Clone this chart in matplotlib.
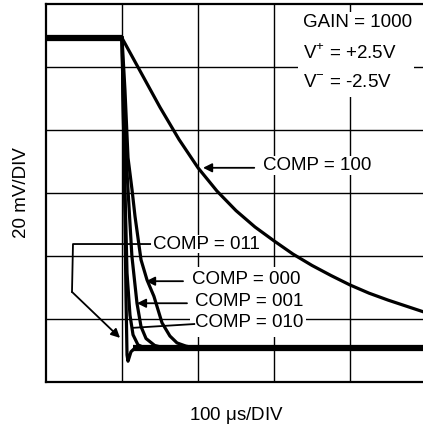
import matplotlib.pyplot as plt
from matplotlib.patches import Rectangle

plt.rcParams['font.family'] = ['Liberation Sans', 'DejaVu Sans']
plt.rcParams['mathtext.fontset'] = 'custom'
plt.rcParams['mathtext.rm'] = 'Liberation Sans'

# time in divisions (100 us/DIV), level in divisions (20 mV/DIV)
flat_t = [0.0, 1.0]
flat_v = [5.46, 5.46]

comp100_t = [1.0, 1.25, 1.5, 1.75, 2.0, 2.25, 2.5, 2.75, 3.0, 3.25, 3.5,
             3.75, 4.0, 4.25, 4.5, 4.75, 5.0]
comp100_v = [5.46, 4.91, 4.36, 3.85, 3.40, 3.03, 2.72, 2.46, 2.24, 2.03, 1.85,
             1.69, 1.54, 1.41, 1.30, 1.20, 1.10]

comp011_t = [1.0, 1.026, 1.053, 1.066, 1.079, 1.118, 1.171, 5.0]
comp011_v = [5.46, 3.68, 1.30, 0.43, 0.33, 0.48, 0.54, 0.54]

comp010_t = [1.0, 1.026, 1.066, 1.105, 1.145, 1.21, 1.30, 5.0]
comp010_v = [5.46, 3.68, 1.73, 1.06, 0.75, 0.59, 0.54, 0.54]

comp001_t = [1.0, 1.026, 1.079, 1.13, 1.197, 1.25, 1.316, 1.43, 1.56, 5.0]
comp001_v = [5.46, 4.2, 3.05, 2.0, 1.25, 0.88, 0.69, 0.58, 0.54, 0.54]

comp000_t = [1.0, 1.039, 1.079, 1.132, 1.171, 1.25, 1.329, 1.42, 1.526,
             1.63, 1.724, 1.84, 1.96, 5.0]
comp000_v = [5.46, 4.63, 3.56, 3.05, 2.63, 1.94, 1.62, 1.36, 0.94,
             0.73, 0.62, 0.57, 0.54, 0.54]

settle_t = [1.15, 5.0]
settle_v = [0.54, 0.54]

grid_x = [1, 2, 3, 4]
grid_y = [1, 2, 3, 4, 5]

fig = plt.figure(figsize=(4.23, 4.32), dpi=100)
ax = fig.add_axes([46/423, 1-382/432, 1-46/423, 378/432])
ax.set_xlim(0, 4.96)
ax.set_ylim(0, 6)
ax.set_xticks([])
ax.set_yticks([])
for gx in grid_x:
    ax.axvline(gx, color='black', lw=1.0, zorder=1)
for gy in grid_y:
    ax.axhline(gy, color='black', lw=1.0, zorder=1)
for s in ['left', 'top', 'bottom']:
    ax.spines[s].set_linewidth(1.6)
ax.spines['right'].set_visible(False)

# noisy flat parts
ax.plot(flat_t, flat_v, color='black', lw=4.5, solid_capstyle='butt', zorder=4)
ax.plot(settle_t, settle_v, color='black', lw=4.5, solid_capstyle='butt', zorder=4)

for t, v in [(comp100_t, comp100_v), (comp011_t, comp011_v), (comp010_t, comp010_v),
             (comp001_t, comp001_v), (comp000_t, comp000_v)]:
    ax.plot(t, v, color='black', lw=2.3, zorder=4)

fs = 13.5

# white blanks behind the text blocks
ax.add_patch(Rectangle((3.316, 4.52), 1.52, 1.35, facecolor='white',
                       edgecolor='none', zorder=3))
ax.add_patch(Rectangle((1.895, 0.714), 1.53, 1.11, facecolor='white',
                       edgecolor='none', zorder=3))


def label(x, y, s, box=True):
    bb = dict(boxstyle='square,pad=0.05', facecolor='white', edgecolor='none') if box else None
    ax.text(x, y, s, fontsize=fs, va='center', zorder=10, bbox=bb)


label(3.382, 5.71, 'GAIN = 1000', box=False)
label(3.382, 5.22, r'V$^\mathregular{+}$ = +2.5V', box=False)
label(3.382, 4.75, r'V$^\mathregular{-}$ = -2.5V', box=False)

arrow = dict(arrowstyle='-|>', color='black', lw=1.3, mutation_scale=13,
             shrinkA=0, shrinkB=0)

label(2.855, 3.43, 'COMP = 100')
ax.annotate('', xy=(2.066, 3.40), xytext=(2.74, 3.40), arrowprops=arrow, zorder=6)

label(1.408, 2.19, 'COMP = 011')
ax.plot([1.37, 0.355, 0.342], [2.19, 2.19, 1.43], color='black', lw=1.3, zorder=6)
ax.annotate('', xy=(0.974, 0.70), xytext=(0.342, 1.43), arrowprops=arrow, zorder=6)

label(1.921, 1.62, 'COMP = 000', box=False)
ax.annotate('', xy=(1.316, 1.60), xytext=(1.803, 1.60), arrowprops=arrow, zorder=6)

label(1.96, 1.27, 'COMP = 001', box=False)
ax.annotate('', xy=(1.197, 1.25), xytext=(1.855, 1.25), arrowprops=arrow, zorder=6)

label(1.96, 0.94, 'COMP = 010', box=False)
ax.plot([1.95, 1.145], [0.92, 0.86], color='black', lw=1.3, zorder=6)

fig.text(21/423, 1-193/432, '20 mV/DIV', fontsize=fs, rotation=90,
         ha='center', va='center')
fig.text(237/423, 1-416/432, '100 $\\mathregular{\\mu}$s/DIV', fontsize=fs,
         ha='center', va='center')

fig.savefig('out.png', dpi=100)
